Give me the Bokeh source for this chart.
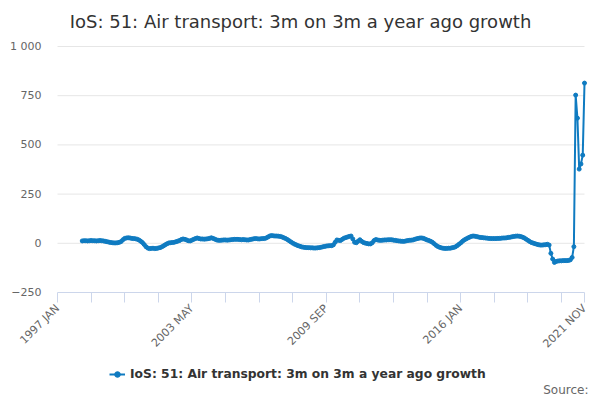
from bokeh.plotting import figure
from bokeh.models import FixedTicker, Range1d, Legend, LegendItem, Label
from bokeh.embed import file_html
from bokeh.resources import INLINE

# ---- data ----
MONTH_NAMES = ["JAN", "FEB", "MAR", "APR", "MAY", "JUN",
               "JUL", "AUG", "SEP", "OCT", "NOV", "DEC"]
categories = [f"{1997 + i // 12} {MONTH_NAMES[i % 12]}" for i in range(299)]  # 1997 JAN .. 2021 NOV
first_month = "1998 MAR"
growth = [
    12, 13, 13, 12, 13, 14, 13, 13, 12, 13,
    14, 13, 12, 10, 8, 6, 4, 3, 2, 2,
    3, 5, 9, 18, 25, 27, 28, 27, 25, 24,
    23, 21, 17, 11, 4, -6, -17, -24, -27, -26,
    -25, -27, -26, -24, -22, -18, -13, -7, -2, 2,
    3, 4, 5, 8, 11, 14, 19, 22, 20, 17,
    13, 12, 16, 20, 24, 27, 24, 22, 22, 21,
    22, 23, 25, 28, 25, 21, 17, 15, 15, 16,
    17, 17, 16, 17, 18, 19, 20, 20, 20, 19,
    18, 19, 18, 17, 17, 19, 21, 23, 24, 23,
    22, 23, 24, 24, 27, 32, 37, 39, 38, 37,
    37, 36, 35, 32, 28, 24, 19, 13, 7, 1,
    -4, -8, -12, -15, -18, -20, -21, -22, -22, -23,
    -23, -24, -24, -23, -22, -20, -18, -16, -14, -13,
    -12, -12, -8, 5, 17, 15, 14, 20, 26, 29,
    32, 35, 37, 22, 5, 3, 11, 18, 10, 4,
    1, -1, -3, -3, 3, 14, 19, 17, 15, 15,
    16, 17, 17, 18, 18, 18, 16, 15, 13, 12,
    11, 10, 10, 12, 14, 15, 16, 17, 20, 23,
    25, 27, 27, 25, 21, 17, 14, 10, 5, -2,
    -10, -16, -20, -23, -25, -26, -26, -25, -25, -23,
    -21, -18, -12, -5, 2, 10, 17, 22, 27, 31,
    35, 37, 36, 34, 32, 30, 29, 28, 27, 26,
    25, 24, 24, 24, 24, 25, 25, 26, 27, 27,
    28, 30, 31, 33, 35, 36, 37, 36, 34, 31,
    27, 21, 15, 9, 4, 1, -2, -5, -7, -9,
    -9, -8, -7, -5, -9, -51, -80, -97, -92, -90,
    -89, -89, -88, -88, -88, -87, -84, -72, -17, 753,
    636, 377, 403, 448, 814,
]
x_tick_labels = ["1997 JAN", "2003 MAY", "2009 SEP", "2016 JAN", "2021 NOV"]
y_ticks = [-250, 0, 250, 500, 750, 1000]
series_name = "IoS: 51: Air transport: 3m on 3m a year ago growth"
chart_title = "IoS: 51: Air transport: 3m on 3m a year ago growth"
source_text = "Source:"

# ---- derived ----
start = categories.index(first_month)
xs = list(range(start, start + len(growth)))
last = len(categories) - 1

COLOR = "#0f7bc1"
FONT = "DejaVu Sans"

# layout in pixels (whole canvas is the plot frame)
W, H = 592, 396
PLOT_L, PLOT_R = 57, 584          # x pixel of first / last category
PLOT_T, PLOT_B = 46, 292          # y pixel of top / bottom value tick
ppm = (PLOT_R - PLOT_L) / last
upp = (y_ticks[-1] - y_ticks[0]) / (PLOT_B - PLOT_T)
x_start = -PLOT_L / ppm
x_end = last + (W - PLOT_R) / ppm
y_top = y_ticks[-1] + PLOT_T * upp
y_bot = y_ticks[0] - (H - PLOT_B) * upp


def x_at(px):
    return x_start + px / ppm


def y_at(py):
    return y_top - py * upp


p = figure(width=W, height=H, output_backend="svg", toolbar_location=None,
           x_range=Range1d(x_start, x_end), y_range=Range1d(y_bot, y_top),
           min_border=0)
p.outline_line_color = None
p.background_fill_color = "white"
p.border_fill_color = "white"
p.xgrid.visible = False
p.ygrid.visible = False

# horizontal grid lines at value ticks
grid_y = y_ticks[1:]
p.segment(x0=[0] * len(grid_y), x1=[last] * len(grid_y), y0=grid_y, y1=grid_y,
          line_color="#e6e6e6", line_width=1)

r_line = p.line(xs, growth, line_width=2, color=COLOR)
r_pts = p.scatter(xs, growth, size=4, color=COLOR)

# x axis
tick_pos = list(range(0, last, 19)) + [last]
overrides = {t: "" for t in tick_pos}
for lbl in x_tick_labels:
    overrides[categories.index(lbl)] = lbl
xa = p.xaxis[0]
xa.fixed_location = y_ticks[0]
xa.bounds = (0, last)
xa.ticker = FixedTicker(ticks=tick_pos)
xa.major_label_overrides = overrides
xa.major_label_orientation = 0.785398
xa.axis_line_color = "#ccd6eb"
xa.major_tick_line_color = "#ccd6eb"
xa.major_tick_out = 10
xa.major_tick_in = 0
xa.minor_tick_line_color = None
xa.major_label_text_font = FONT
xa.major_label_text_font_size = "11px"
xa.major_label_text_color = "#666666"
xa.major_label_standoff = 4

# y axis
ya = p.yaxis[0]
ya.fixed_location = 0
ya.ticker = FixedTicker(ticks=y_ticks)
ya.major_label_overrides = {1000: "1 000"}
ya.axis_line_color = None
ya.major_tick_line_color = None
ya.major_tick_out = 0
ya.major_tick_in = 0
ya.minor_tick_line_color = None
ya.major_label_text_font = FONT
ya.major_label_text_font_size = "11px"
ya.major_label_text_color = "#666666"
ya.major_label_standoff = 16

# title
title = Label(x=x_at(300), y=y_at(20.5), text=chart_title,
              text_align="center", text_baseline="middle",
              text_font=FONT, text_font_size="18px", text_color="#333333")
p.add_layout(title)

legend = Legend(items=[LegendItem(label=series_name, renderers=[r_line, r_pts])],
                location=(109, 15), orientation="horizontal",
                border_line_color=None, background_fill_alpha=0,
                label_text_font=FONT, label_text_font_style="bold",
                label_text_font_size="12.3px", label_text_color="#333333",
                glyph_width=16, glyph_height=14, padding=2, margin=0,
                label_standoff=5)
p.add_layout(legend, "center")

src = Label(x=x_at(588), y=y_at(389.5),
            text=source_text, text_align="right", text_baseline="middle",
            text_font=FONT, text_font_size="12px", text_color="#666666")
p.add_layout(src)

open("out.html", "w").write(file_html(p, INLINE))
